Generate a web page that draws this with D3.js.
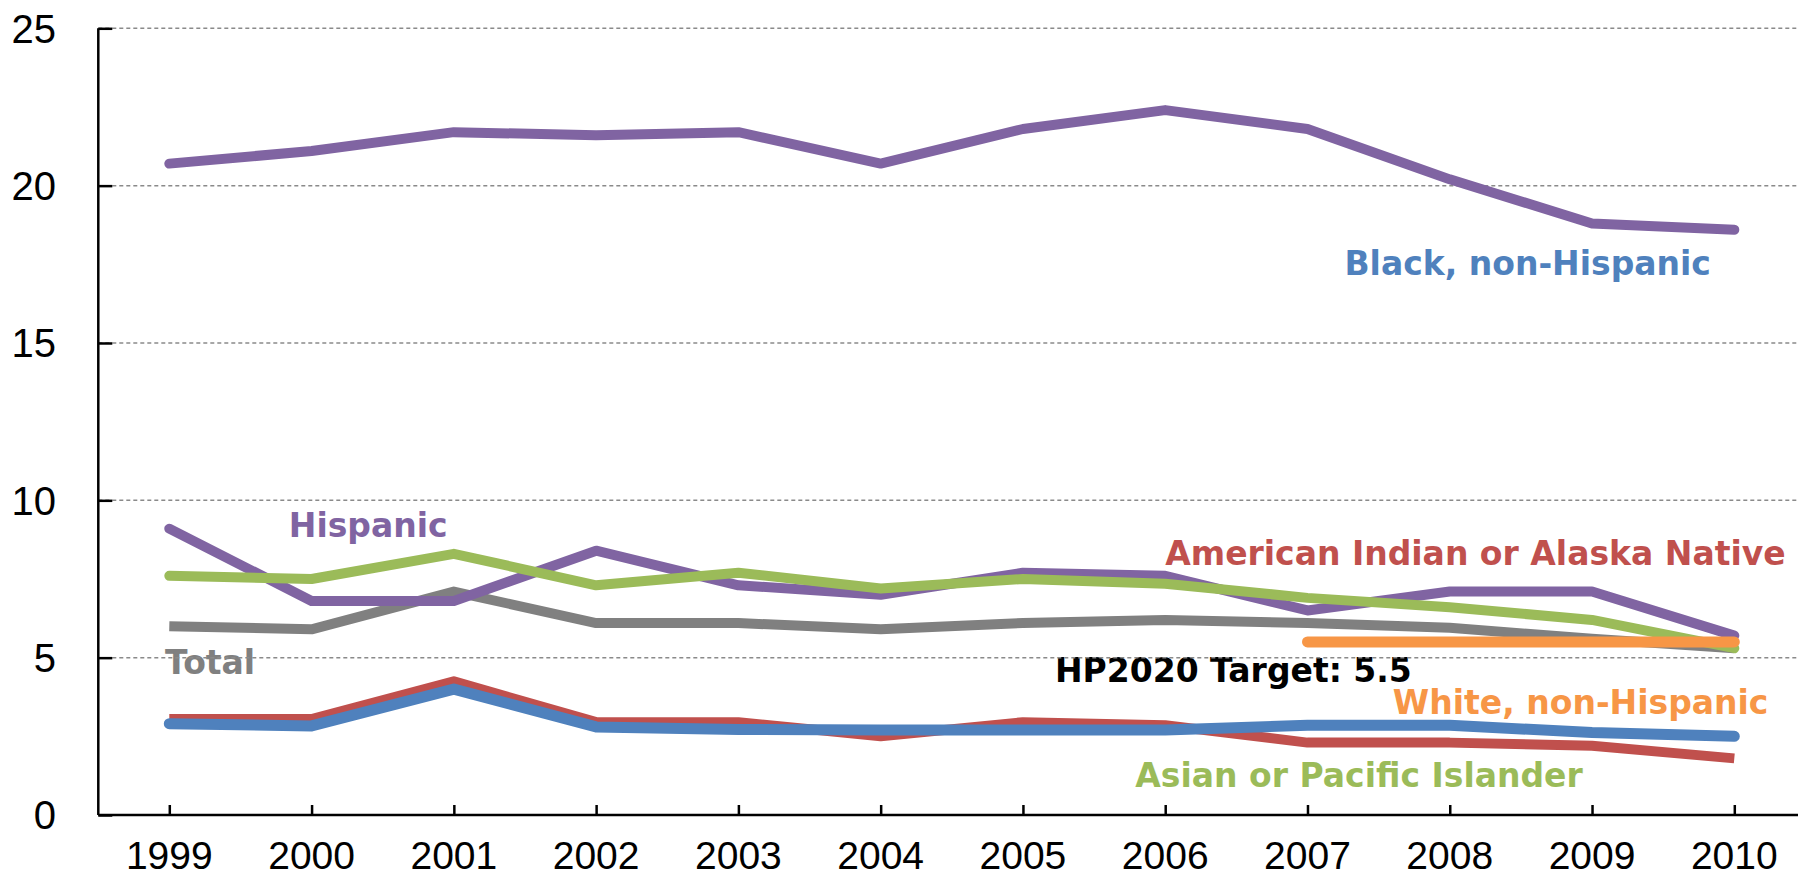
<!DOCTYPE html>
<html>
<head>
<meta charset="utf-8">
<script src="https://cdn.jsdelivr.net/npm/d3@7"></script>
<style>
  html, body { margin: 0; padding: 0; background: #fff; }
  svg { display: block; }
</style>
</head>
<body>
<svg id="chart" width="1798" height="878"></svg>
<script>
// ---- data ----
const years = [1999, 2000, 2001, 2002, 2003, 2004, 2005, 2006, 2007, 2008, 2009, 2010];
const yTicks = [0, 5, 10, 15, 20, 25];

const blackNonHispanic = [20.7, 21.1, 21.7, 21.6, 21.7, 20.7, 21.8, 22.4, 21.8, 20.2, 18.8, 18.6];
const hispanic        = [9.1, 6.8, 6.8, 8.4, 7.3, 7.0, 7.7, 7.6, 6.5, 7.1, 7.1, 5.7];
const asianPacific    = [7.6, 7.5, 8.3, 7.3, 7.7, 7.2, 7.5, 7.35, 6.9, 6.6, 6.2, 5.3];
const total           = [6.0, 5.9, 7.1, 6.1, 6.1, 5.9, 6.1, 6.2, 6.1, 5.95, 5.6, 5.3];
const amIndian        = [3.05, 3.05, 4.25, 2.95, 2.95, 2.5, 2.95, 2.85, 2.3, 2.3, 2.2, 1.8];
const whiteNonHisp    = [2.9, 2.83, 4.0, 2.8, 2.72, 2.7, 2.7, 2.7, 2.85, 2.85, 2.62, 2.5];
const targetYears     = [2007, 2008, 2009, 2010];
const targetValues    = [5.5, 5.5, 5.5, 5.5];

const labelTexts = ["Black, non-Hispanic", "Hispanic", "Total", "American Indian or Alaska Native",
                    "HP2020 Target: 5.5", "White, non-Hispanic", "Asian or Pacific Islander"];

// ---- layout ----
const svg = d3.select("#chart");
const W = 1798;
const x0 = 169.3, x1 = 1734.3, step = (x1 - x0) / 11;
const x = d3.scalePoint().domain(years).range([x0 - step / 2, x1 + step / 2]).padding(0.5);
const xLin = d3.scaleLinear().domain([1999, 2010]).range([x0, x1]);
const y = d3.scaleLinear().domain([0, 25]).range([815, 28.3]);
const axisLeftX = 98.3;

// labels (drawn first so gridlines show through, as in reference)
const labelSpecs = [
  {t: labelTexts[0], c: "#4F81BD", yr: 2007.26, v: 17.16},
  {t: labelTexts[1], c: "#8064A2", yr: 1999.84, v: 8.84},
  {t: labelTexts[2], c: "#808080", yr: 1998.97, v: 4.47},
  {t: labelTexts[3], c: "#C0504D", yr: 2006.0,  v: 7.94},
  {t: labelTexts[4], c: "#000000", yr: 2005.225, v: 4.236},
  {t: labelTexts[5], c: "#F79646", yr: 2007.6,  v: 3.21},
  {t: labelTexts[6], c: "#9BBB59", yr: 2005.79, v: 0.9}
];
svg.append("g").selectAll("text").data(labelSpecs).join("text")
  .attr("x", d => xLin(d.yr))
  .attr("y", d => y(d.v))
  .attr("fill", d => d.c)
  .attr("font-family", "'DejaVu Sans', Verdana, sans-serif")
  .attr("font-weight", "bold")
  .attr("font-size", 33)
  .text(d => d.t);

// gridlines
svg.append("g").selectAll("line").data(yTicks.filter(t => t > 0)).join("line")
  .attr("x1", axisLeftX).attr("x2", W)
  .attr("y1", d => y(d)).attr("y2", d => y(d))
  .attr("stroke", "#8a8a8a").attr("stroke-width", 1.5)
  .attr("stroke-dasharray", "4,3");

// series lines
const line = d3.line().x((d, i) => x(years[i])).y(d => y(d));
const targetLine = d3.line().x((d, i) => x(targetYears[i])).y(d => y(d));
const series = [
  {vals: total, c: "#808080", w: 10, cap: "butt"},
  {vals: hispanic, c: "#8064A2", w: 10, cap: "round"},
  {vals: asianPacific, c: "#9BBB59", w: 10, cap: "round"},
  {vals: amIndian, c: "#C0504D", w: 10, cap: "butt"},
  {vals: whiteNonHisp, c: "#4F81BD", w: 11, cap: "round"},
  {vals: blackNonHispanic, c: "#8064A2", w: 10, cap: "round"}
];
svg.append("g").selectAll("path").data(series).join("path")
  .attr("d", d => line(d.vals))
  .attr("fill", "none")
  .attr("stroke", d => d.c)
  .attr("stroke-width", d => d.w)
  .attr("stroke-linecap", d => d.cap)
  .attr("stroke-linejoin", "round");
svg.append("path")
  .attr("d", targetLine(targetValues))
  .attr("fill", "none").attr("stroke", "#F79646")
  .attr("stroke-width", 11).attr("stroke-linecap", "round");

// axes
const yAxis = d3.axisRight(y).tickValues(yTicks).tickSize(14).tickFormat("");
svg.append("g").attr("transform", `translate(${axisLeftX},0)`).call(yAxis)
  .call(g => g.selectAll("path, line").attr("stroke", "#000").attr("stroke-width", 2.5))
  .call(g => g.select(".domain").attr("d", `M0,${y(25)}V${y(0)}`));
svg.append("g").selectAll("text").data(yTicks).join("text")
  .attr("x", 56).attr("y", d => y(d)).attr("dy", "0.36em")
  .attr("text-anchor", "end")
  .attr("font-family", "'Liberation Sans', Arial, sans-serif")
  .attr("font-size", 40).attr("fill", "#000")
  .text(d => d);

const xAxis = d3.axisTop(x).tickSize(10).tickFormat("");
svg.append("g").attr("transform", `translate(0,${y(0)})`).call(xAxis)
  .call(g => g.selectAll("path, line").attr("stroke", "#000").attr("stroke-width", 2.5))
  .call(g => g.select(".domain").attr("d", `M${axisLeftX},0H${W}`));
svg.append("g").selectAll("text").data(years).join("text")
  .attr("x", d => x(d)).attr("y", 869)
  .attr("text-anchor", "middle")
  .attr("font-family", "'Liberation Sans', Arial, sans-serif")
  .attr("font-size", 39).attr("fill", "#000")
  .text(d => d);
</script>
</body>
</html>
